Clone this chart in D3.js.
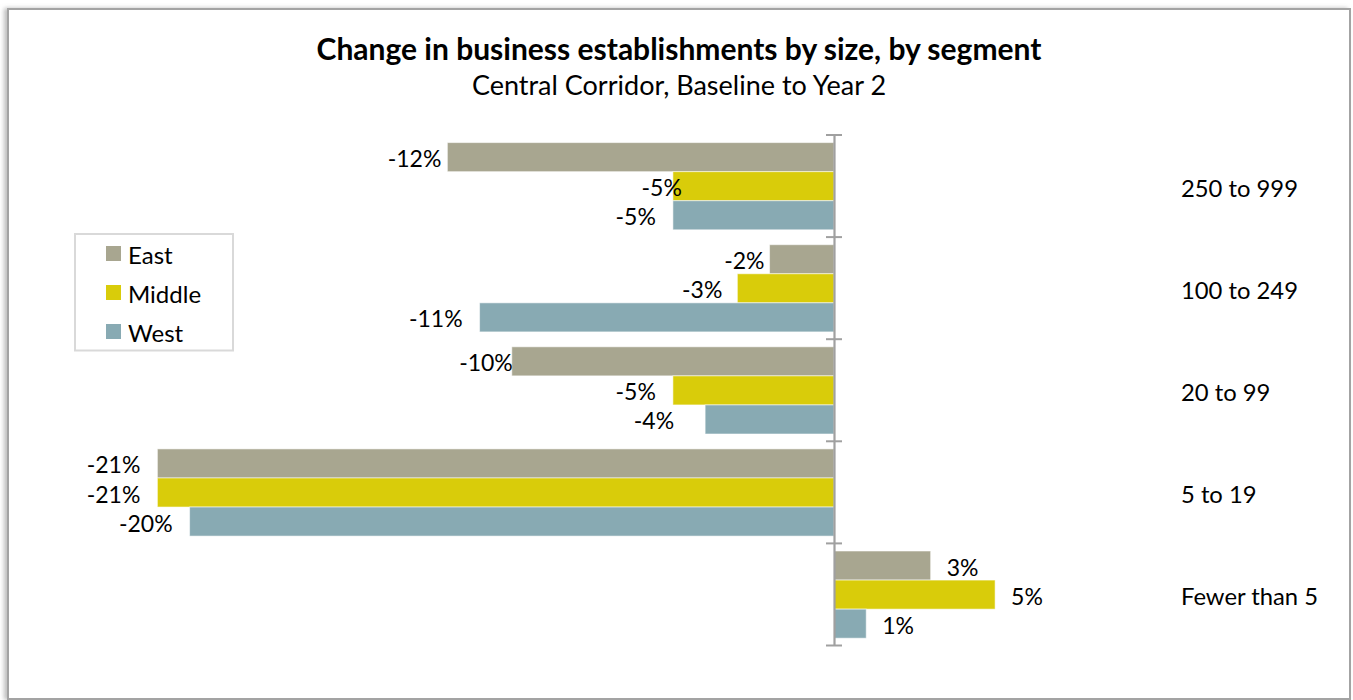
<!DOCTYPE html>
<html>
<head>
<meta charset="utf-8">
<script src="https://cdn.jsdelivr.net/npm/d3@7"></script>
<style>
  html, body { margin: 0; padding: 0; background: #fff; }
  svg { display: block; font-family: Lato, "Open Sans", sans-serif; }
</style>
</head>
<body>
<svg id="chart" width="1353" height="700"></svg>
<script>
// Size classes, top to bottom
const categories = ["250 to 999", "100 to 249", "20 to 99", "5 to 19", "Fewer than 5"];
const seriesNames = ["East", "Middle", "West"];
// Percent change, Baseline to Year 2, one value per size class
const eastValues = [-12, -2, -10, -21, 3];
const middleValues = [-5, -3, -5, -21, 5];
const westValues = [-5, -11, -4, -20, 1];

const seriesValues = { East: eastValues, Middle: middleValues, West: westValues };
const colors = { East: "#a8a690", Middle: "#d9cc0a", West: "#88aab3" };

const svg = d3.select("#chart");

// drop shadow for the chart frame
const defs = svg.append("defs");
const f = defs.append("filter").attr("id", "frameShadow")
  .attr("x", "-5%").attr("y", "-5%").attr("width", "110%").attr("height", "110%");
f.append("feDropShadow").attr("dx", -3).attr("dy", 0).attr("stdDeviation", 2)
  .attr("flood-color", "#888").attr("flood-opacity", 0.55);

svg.append("rect")
  .attr("x", 8).attr("y", 9).attr("width", 1342).attr("height", 690)
  .attr("fill", "#fff").attr("stroke", "#a3a3a3").attr("stroke-width", 2)
  .attr("filter", "url(#frameShadow)");

// titles
svg.append("text").attr("x", 679).attr("y", 60).attr("text-anchor", "middle")
  .attr("font-size", 30).attr("font-weight", "bold").attr("fill", "#000")
  .text("Change in business establishments by size, by segment");
svg.append("text").attr("x", 679).attr("y", 95).attr("text-anchor", "middle")
  .attr("font-size", 27).attr("fill", "#000")
  .text("Central Corridor, Baseline to Year 2");

// scales
const x = d3.scaleLinear().domain([-25, 15]).range([28.5, 1317.3]);
const y = d3.scaleBand().domain(categories).range([135, 645.5]).paddingInner(0).paddingOuter(0);
const inner = d3.scaleBand().domain(seriesNames)
  .range([7.6, y.bandwidth() - 7.3]).paddingInner(0);

// bars
const rows = [];
categories.forEach((c, i) => {
  seriesNames.forEach(s => rows.push({ cat: c, series: s, value: seriesValues[s][i] }));
});

const g = svg.append("g");
g.selectAll("rect.bar").data(rows).join("rect")
  .attr("class", "bar")
  .attr("x", d => x(Math.min(0, d.value)))
  .attr("y", d => y(d.cat) + inner(d.series))
  .attr("width", d => Math.abs(x(d.value) - x(0)))
  .attr("height", inner.bandwidth())
  .attr("fill", d => colors[d.series])
  .attr("stroke", "rgba(255,255,255,0.55)")
  .attr("stroke-width", 1);

// category axis at zero, ticks between size classes
const axis = d3.axisLeft(y).tickSize(0).tickFormat("");
const axisG = svg.append("g").attr("transform", `translate(${x(0)},0)`).call(axis);
axisG.select(".domain").attr("stroke", "#a0a0a0").attr("stroke-width", 2.2);
const boundaries = categories.map(c => y(c)).concat([y.range()[1]]);
axisG.selectAll("line.sep").data(boundaries).join("line")
  .attr("class", "sep")
  .attr("x1", -8).attr("x2", 8)
  .attr("y1", d => d).attr("y2", d => d)
  .attr("stroke", "#a0a0a0").attr("stroke-width", 2);

// category names on the right
svg.append("g").selectAll("text").data(categories).join("text")
  .attr("x", 1181)
  .attr("y", d => y(d) + y.bandwidth() / 2 + 10.5)
  .attr("font-size", 23.8).attr("fill", "#000")
  .text(d => d);

// value labels; a few were hand-placed, shifted from the default spot
const labelShift = {
  "250 to 999|East": 11, "250 to 999|Middle": 26,
  "100 to 249|East": 12, "100 to 249|Middle": 2,
  "20 to 99|East": 18, "20 to 99|West": -14
};
const fmt = v => v + "%";
svg.append("g").selectAll("text").data(rows).join("text")
  .attr("x", d => {
    const shift = labelShift[d.cat + "|" + d.series] || 0;
    return d.value < 0 ? x(d.value) - 17 + shift : x(d.value) + 16;
  })
  .attr("y", d => y(d.cat) + inner(d.series) + inner.bandwidth() / 2 + 10)
  .attr("text-anchor", d => d.value < 0 ? "end" : "start")
  .attr("font-size", 23).attr("fill", "#000")
  .text(d => fmt(d.value));

// legend
const legend = svg.append("g");
legend.append("rect").attr("x", 75).attr("y", 234).attr("width", 158).attr("height", 116.5)
  .attr("fill", "#fff").attr("stroke", "#d9d9d9").attr("stroke-width", 2);
const li = legend.selectAll("g.item").data(seriesNames).join("g")
  .attr("class", "item")
  .attr("transform", (d, i) => `translate(106,${246 + i * 39})`);
li.append("rect").attr("width", 15).attr("height", 15).attr("fill", d => colors[d]);
li.append("text").attr("x", 22).attr("y", 18).attr("font-size", 24).attr("fill", "#000")
  .text(d => d);
</script>
</body>
</html>
